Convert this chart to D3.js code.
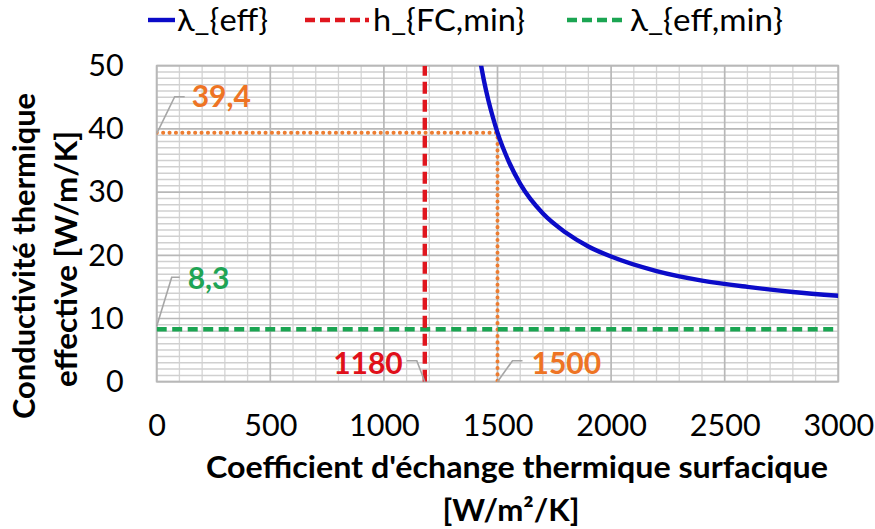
<!DOCTYPE html>
<html><head><meta charset="utf-8">
<script src="https://cdn.jsdelivr.net/npm/d3@7"></script>
<style>
html,body{margin:0;padding:0;background:#fff;}
text{font-family:Lato,"Open Sans",sans-serif;}
</style></head>
<body>
<svg id="chart" width="875" height="529"></svg>
<script>
// ---- data ----
const hValues = [1425,1440,1460,1480,1500,1550,1600,1700,1800,1900,2000,2200,2400,2600,2800,3000];
const lambdaEff = [50.6,47.7,44.5,41.8,39.4,34.8,31.3,26.6,23.6,21.4,19.8,17.5,16.0,15.0,14.2,13.6];
const hFCmin = 1180;
const lambdaEffMin = 8.3;
const hPoint = 1500;
const lambdaPoint = 39.4;
const xTicks = [0,500,1000,1500,2000,2500,3000];
const yTicks = [0,10,20,30,40,50];
const seriesNames = ["λ_{eff}","h_{FC,min}","λ_{eff,min}"];
const pointLabels = ["39,4","8,3","1180","1500"];

const svg = d3.select("#chart");
const L=156.7, R=838.3, T=65.7, B=381.7;
const x = d3.scaleLinear().domain([0,3000]).range([L,R]);
const y = d3.scaleLinear().domain([0,50]).range([B,T]);

const colBlue="#0B0BC8", colRed="#E0161E", colGreen="#1BA552", colOrange="#ED7D31", colGrey="#A6A6A6";

// grid
const g = svg.append("g");
const minorX = d3.range(0,3001,100).filter(v=>v%500!==0);
const minorY = d3.range(0,51,1).filter(v=>v%10!==0);
g.selectAll(".mx").data(minorX).join("line")
  .attr("x1",d=>x(d)).attr("x2",d=>x(d)).attr("y1",T).attr("y2",B)
  .attr("stroke","#D4D4D4").attr("stroke-width",1.3);
g.selectAll(".my").data(minorY).join("line")
  .attr("x1",L).attr("x2",R).attr("y1",d=>y(d)).attr("y2",d=>y(d))
  .attr("stroke","#D0D0D0").attr("stroke-width",1.5);
g.selectAll(".Mx").data(xTicks).join("line")
  .attr("x1",d=>x(d)).attr("x2",d=>x(d)).attr("y1",T).attr("y2",B)
  .attr("stroke","#B8B8B8").attr("stroke-width",1.7);
g.selectAll(".My").data(yTicks).join("line")
  .attr("x1",L).attr("x2",R).attr("y1",d=>y(d)).attr("y2",d=>y(d))
  .attr("stroke","#B8B8B8").attr("stroke-width",1.7);
g.append("rect").attr("x",L).attr("y",T).attr("width",R-L).attr("height",B-T)
  .attr("fill","none").attr("stroke","#B8B8B8").attr("stroke-width",1.7);

// axes
const xAxis = svg.append("g").attr("transform",`translate(0,${B})`)
  .call(d3.axisBottom(x).tickValues(xTicks).tickSize(0).tickPadding(33).tickFormat(d3.format("d")));
const yAxis = svg.append("g").attr("transform",`translate(${L},0)`)
  .call(d3.axisLeft(y).tickValues(yTicks).tickSize(0).tickPadding(33).tickFormat(d3.format("d")));
[xAxis,yAxis].forEach(a=>{
  a.select(".domain").remove();
  a.selectAll("text").attr("font-size",30.5).attr("fill","#000").style("font-family","Lato");
});

// clip
svg.append("clipPath").attr("id","clip").append("rect")
  .attr("x",L).attr("y",T).attr("width",R-L).attr("height",B-T);
const plot = svg.append("g").attr("clip-path","url(#clip)");

// orange dotted guides
plot.append("path")
  .attr("d", d3.line()([[x(0),y(lambdaPoint)],[x(hPoint),y(lambdaPoint)],[x(hPoint),y(0)]]))
  .attr("fill","none").attr("stroke",colOrange).attr("stroke-width",4)
  .attr("stroke-linecap","round").attr("stroke-dasharray","0.1,6.3");

// green dashed
plot.append("line").attr("x1",x(0)).attr("x2",x(3000))
  .attr("y1",y(lambdaEffMin)).attr("y2",y(lambdaEffMin))
  .attr("stroke",colGreen).attr("stroke-width",4.4).attr("stroke-dasharray","10,5.5");
// red dashed
plot.append("line").attr("x1",x(hFCmin)).attr("x2",x(hFCmin))
  .attr("y1",y(0)).attr("y2",y(50))
  .attr("stroke",colRed).attr("stroke-width",4.4).attr("stroke-dasharray","12,6");

// blue curve
const pts = hValues.map((h,i)=>[h,lambdaEff[i]]);
plot.append("path").datum(pts)
  .attr("d", d3.line().x(d=>x(d[0])).y(d=>y(d[1])).curve(d3.curveMonotoneX))
  .attr("fill","none").attr("stroke",colBlue).attr("stroke-width",4.4);

// data labels with leader lines
function leader(pts){
  svg.append("path").attr("d",d3.line()(pts)).attr("fill","none")
    .attr("stroke",colGrey).attr("stroke-width",1.6);
}
function label(txt,xx,yy,col,anchor){
  svg.append("text").attr("x",xx).attr("y",yy).attr("dy","0.36em")
    .attr("text-anchor",anchor||"start").attr("font-size",30).attr("font-weight","bold")
    .attr("fill",col).text(txt);
}
// 39,4
leader([[x(0),y(lambdaPoint)+1],[x(0)+18,y(lambdaPoint)-36],[x(0)+28,y(lambdaPoint)-36]]);
label(pointLabels[0], x(0)+35, y(lambdaPoint)-36, "#EE7424");
// 8,3
leader([[x(0),y(lambdaEffMin)-3],[x(0)+15,y(lambdaEffMin)-52],[x(0)+23,y(lambdaEffMin)-52]]);
label(pointLabels[1], x(0)+31, y(lambdaEffMin)-51, "#1FA455");
// 1180
leader([[x(hFCmin),y(0)],[x(hFCmin)-8,y(0)-21],[x(hFCmin)-18,y(0)-21]]);
label(pointLabels[2], x(hFCmin)-22, y(0)-19, "#E0101A", "end");
// 1500
leader([[x(hPoint),y(0)],[x(hPoint)+15,y(0)-21],[x(hPoint)+25,y(0)-21]]);
label(pointLabels[3], x(hPoint)+34, y(0)-19, "#EE7424");

// fitted text helper
function fitText(sel, txt, len){
  sel.text(txt).attr("textLength",len).attr("lengthAdjust","spacingAndGlyphs");
  return sel;
}
// axis titles
fitText(svg.append("text").attr("x",517).attr("y",478).attr("text-anchor","middle")
  .attr("font-size",30).attr("font-weight","bold").attr("fill","#000"),
  "Coefficient d'échange thermique surfacique", 622);
fitText(svg.append("text").attr("x",511).attr("y",521).attr("text-anchor","middle")
  .attr("font-size",30).attr("font-weight","bold").attr("fill","#000"),
  "[W/m²/K]", 137);
const yt = svg.append("g").attr("transform","translate(0,256) rotate(-90)");
fitText(yt.append("text").attr("x",0).attr("y",35).attr("text-anchor","middle")
  .attr("font-size",30).attr("font-weight","bold").attr("fill","#000"),
  "Conductivité thermique", 326);
fitText(yt.append("text").attr("x",-3).attr("y",77).attr("text-anchor","middle")
  .attr("font-size",30).attr("font-weight","bold").attr("fill","#000"),
  "effective [W/m/K]", 256);

// legend
const legY = 20;
const leg = [
  {name:seriesNames[0], col:colBlue, dash:null, x1:148, x2:175, tx:177, w:91},
  {name:seriesNames[1], col:colRed, dash:"10,5", x1:305, x2:369, tx:373, w:152},
  {name:seriesNames[2], col:colGreen, dash:"10,5", x1:567, x2:626, tx:630, w:153}
];
leg.forEach(d=>{
  const ln = svg.append("line").attr("x1",d.x1).attr("x2",d.x2).attr("y1",legY).attr("y2",legY)
    .attr("stroke",d.col).attr("stroke-width",4.4);
  if(d.dash) ln.attr("stroke-dasharray",d.dash);
  fitText(svg.append("text").attr("x",d.tx).attr("y",legY).attr("dy","0.35em")
    .attr("font-size",30).attr("fill","#000"), d.name, d.w);
});
</script>
</body></html>
